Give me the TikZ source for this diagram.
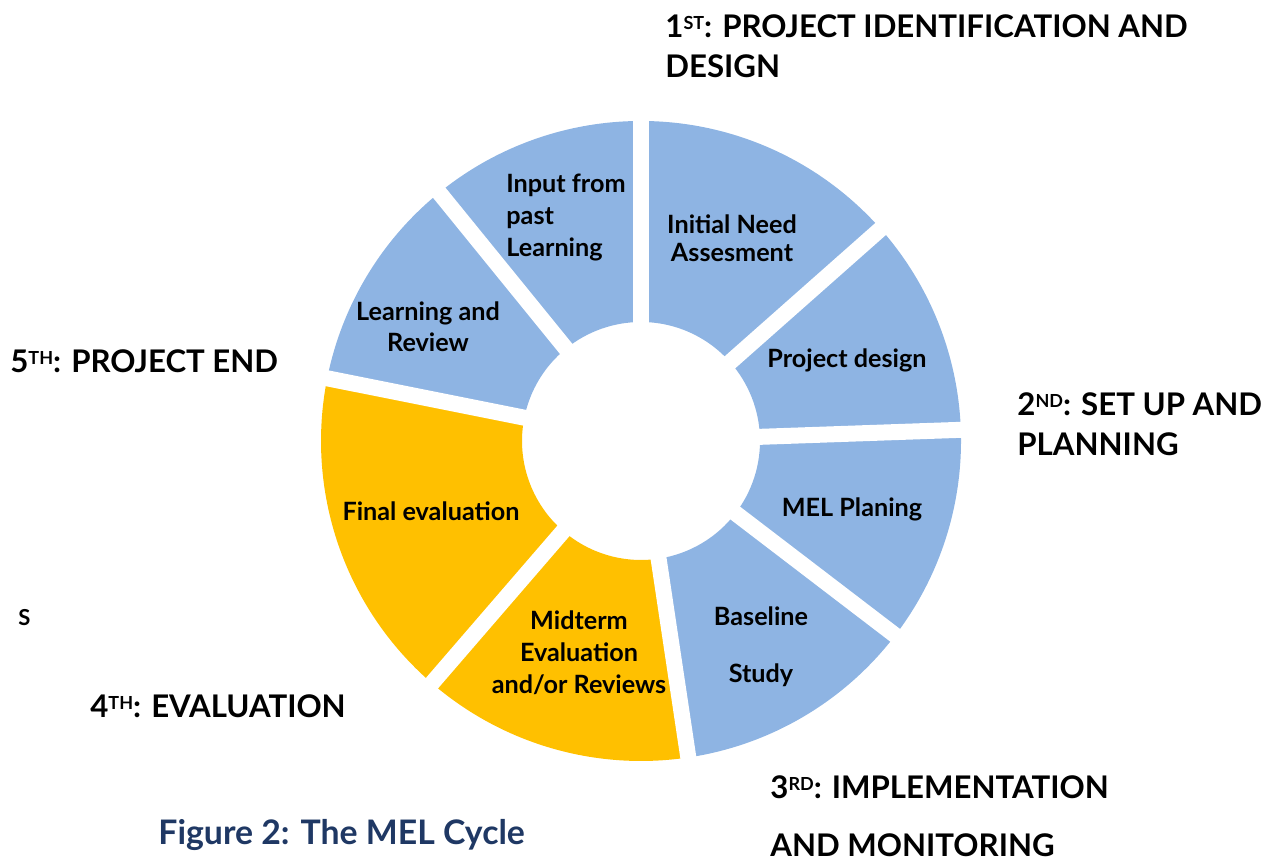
\documentclass[tikz,border=0pt]{standalone}
\usepackage{fontspec}
\setmainfont{Lato}
\usepackage{xcolor}
\usetikzlibrary{calc}
\definecolor{segblue}{HTML}{8EB4E3}
\definecolor{seggold}{HTML}{FFC000}
\definecolor{capnavy}{HTML}{1F3864}
\newcommand{\stagesup}[1]{\raisebox{4.4pt}{\fontsize{9}{9}\selectfont #1}}

\begin{document}
\begin{tikzpicture}[x=0.5pt,y=0.5pt,
    seglabel/.style={font=\bfseries\fontsize{12.6}{16}\selectfont,align=center,anchor=base,inner sep=0pt},
    stagelabel/.style={font=\bfseries\fontsize{15.6}{20}\selectfont,align=left,anchor=base west,inner sep=0pt},
    gapline/.style={white,line width=8pt}]
	\useasboundingbox (0,0) rectangle (1278,865);
	\coordinate (c) at (641,424);
	% ring segments: start / end / colour
	\foreach \sa/\ea/\col in {90/129.1/segblue,129.1/168.7/segblue,168.7/229.2/seggold,229.2/278.5/seggold,
	                          278.5/322.6/segblue,-37.4/2/segblue,2/41.5/segblue,41.5/90/segblue}
		\fill[\col] ($(c)+(\sa:320)$) arc[start angle=\sa,end angle=\ea,radius=320]
			-- ($(c)+(\ea:119)$) arc[start angle=\ea,end angle=\sa,radius=119] -- cycle;
	% white gaps
	\foreach \g in {90,129.1,168.7,229.2,278.5,322.6,2,41.5}
		\draw[gapline] (c) -- ++(\g:330);
	% segment texts (base = last line)
	\node[seglabel,align=left,anchor=base west] (input) at (506,608) {Input from\\past\\Learning};
	\node[seglabel,font=\bfseries\fontsize{12.6}{14}\selectfont] (need) at (732,603) {Initial Need\\Assesment};
	\node[seglabel] (design) at (847,497) {Project design};
	\node[seglabel] (melplan) at (852,348) {MEL Planing};
	\node[seglabel] (baseline) at (761,182) {Baseline\\[12.5pt]Study};
	\node[seglabel] (midterm) at (579,171) {Midterm\\Evaluation\\and/or Reviews};
	\node[seglabel] (final) at (431,344) {Final evaluation};
	\node[seglabel,font=\bfseries\fontsize{12.6}{15.5}\selectfont] (review) at (428,513) {Learning and\\Review};
	% stage headings
	\node[stagelabel] (first) at (665,787) {1\stagesup{ST}: PROJECT IDENTIFICATION AND\\DESIGN};
	\node[stagelabel] (second) at (1017,409) {2\stagesup{ND}: SET UP AND\\PLANNING};
	\node[stagelabel] (third) at (770,8) {3\stagesup{RD}: IMPLEMENTATION\\[9pt]AND MONITORING};
	\node[stagelabel] (fourth) at (90,147) {4\stagesup{TH}: EVALUATION};
	\node[stagelabel] (fifth) at (10,492) {5\stagesup{TH}: PROJECT END};
	\node[stagelabel,font=\bfseries\fontsize{11}{13}\selectfont] (stray) at (18,239) {S};
	\node[stagelabel,font=\bfseries\fontsize{16.9}{20}\selectfont,text=capnavy] (caption) at (158,20) {Figure 2: The MEL Cycle};
\end{tikzpicture}
\end{document}
